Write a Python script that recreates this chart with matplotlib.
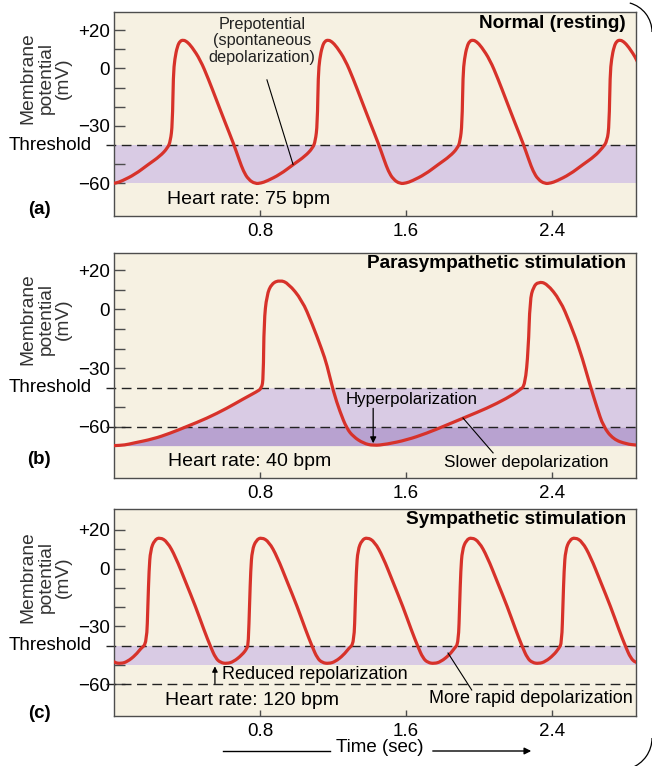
"""Pacemaker potentials under normal, parasympathetic and sympathetic drive."""

import matplotlib
matplotlib.use("Agg")
import matplotlib.pyplot as plt
import numpy as np
from matplotlib.patches import Arc, FancyArrowPatch, PathPatch
from matplotlib.path import Path

plt.rcParams["font.family"] = ["Liberation Sans", "DejaVu Sans"]

RED = "#d7322a"
BEIGE = "#f6f1e2"
PURPLE = "#d9cbe4"
PURPLE_DARK = "#b8a2d0"
FRAME = "#4d4d4d"

W, H = 652, 766
T_MAX = 2.86
THRESHOLD = -40

X_TICKS = [0.8, 1.6, 2.4]
Y_TICKS = [20, 10, 0, -10, -20, -30, -50, -60]
Y_TICK_LABELS = ["+20", "", "0", "", "", "\u221230", "", "\u221260"]

# (a) normal: one beat traced around its peak (s from peak, mV) + peak times
A_SHAPE_T = [-0.071, -0.060, -0.055, -0.047, -0.033, -0.018, 0.0, 0.019, 0.046,
             0.093, 0.137, 0.181, 0.230, 0.274, 0.307, 0.329, 0.356, 0.393,
             0.427, 0.457, 0.530, 0.603, 0.667, 0.709]
A_SHAPE_V = [-38, -29.4, -3.4, 5, 11.5, 14.3, 14.8, 14, 11.3,
             4.4, -5.5, -16.4, -28.5, -39, -48, -53.6, -57.9, -60.2,
             -59.8, -58.8, -55.3, -50.1, -45.8, -41.5]
A_PEAKS = [-0.415, 0.38, 1.174, 1.967, 2.773]
A_BAND = (-60, -40)

# (b) parasympathetic: traced point by point
B_T = [0.0, 0.06, 0.106, 0.215, 0.307, 0.398, 0.508, 0.618, 0.708, 0.782, 0.809,
       0.818, 0.822, 0.837, 0.864, 0.910, 0.955, 1.030, 1.085, 1.140, 1.167,
       1.202, 1.238, 1.275, 1.311, 1.366, 1.421, 1.494, 1.604, 1.713, 1.823,
       1.933, 2.042, 2.152, 2.225, 2.252, 2.270, 2.279, 2.298, 2.325, 2.371,
       2.444, 2.499, 2.553, 2.608, 2.645, 2.681, 2.736, 2.809, 2.860]
B_V = [-69.5, -69.2, -68.2, -66.1, -63.2, -59.8, -55.6, -50.5, -45.7, -42, -40.3,
       -35.2, -6.3, 7.3, 13.2, 14.9, 13.2, 4.7, -7.2, -20.8, -28.4,
       -42, -52.2, -60.7, -64.9, -68.3, -69.5, -68.8, -66.6, -63.2, -59,
       -54.7, -50.5, -45.4, -41.1, -38.6, -20.8, 4.7, 11.5, 14, 13.2,
       4.7, -7.2, -20.8, -38.6, -49.7, -59.8, -66.3, -68.7, -69.2]
B_BAND = (-60, -40)
B_BAND_DARK = (-69.5, -60)
B_FULL_FROM = 0.91  # band is filled everywhere after the first peak

# (c) sympathetic: one beat around its peak + peak times
C_SHAPE_T = [-0.073, -0.066, -0.060, -0.052, -0.030, 0.0, 0.040, 0.085, 0.140,
             0.195, 0.241, 0.277, 0.305, 0.332, 0.367, 0.403, 0.449, 0.477]
C_SHAPE_V = [-38.9, -18.1, -0.8, 9.6, 14.8, 16.2, 13.9, 6.1, -6.9,
             -19.8, -31.9, -40.6, -46.6, -48.9, -49.4, -48.4, -44.9, -41.5]
C_PEAKS = [-0.33, 0.252, 0.809, 1.388, 1.960, 2.526]
C_BAND = (-50, -40)


def beats(shape_t, shape_v, peaks):
    t = np.concatenate([p + np.asarray(shape_t) for p in peaks])
    v = np.concatenate([np.asarray(shape_v, float) for _ in peaks])
    return t, v


def smooth_trace(ax, t, v, **kw):
    """Draw the traced points as a chain of quadratic Beziers (rounded corners)."""
    pts = np.column_stack([t, v])
    mids = (pts[1:] + pts[:-1]) / 2
    verts = [pts[0], mids[0]]
    codes = [Path.MOVETO, Path.LINETO]
    for i in range(1, len(pts) - 1):
        verts += [pts[i], mids[i]]
        codes += [Path.CURVE3, Path.CURVE3]
    verts.append(pts[-1])
    codes.append(Path.LINETO)
    ax.add_patch(PathPatch(Path(verts, codes), fill=False, capstyle="round",
                           joinstyle="round", **kw))


def fig_rect(left, top, right, bottom):
    return [left / W, 1 - bottom / H, (right - left) / W, (bottom - top) / H]


def style_axes(ax, ylim, title, letter, letter_y, label_y, dashed):
    ax.set_facecolor(BEIGE)
    ax.set_xlim(0, T_MAX)
    ax.set_ylim(*ylim)
    ax.set_xticks(X_TICKS)
    ax.set_xticklabels([f"{x:.1f}" for x in X_TICKS])
    ax.set_yticks(Y_TICKS)
    ax.set_yticklabels(Y_TICK_LABELS)
    ax.tick_params(axis="y", direction="in", length=8, width=1, color=FRAME,
                   labelsize=13.5, pad=3)
    ax.tick_params(axis="x", direction="in", length=4, width=1, color=FRAME,
                   labelsize=13.5, pad=5)
    for sp in ax.spines.values():
        sp.set_color(FRAME)
        sp.set_linewidth(1.0)
    for y in dashed:
        ax.plot([-0.045, T_MAX], [y, y], color="#222222", lw=1.0,
                dashes=(7, 4), clip_on=False, zorder=2)
    ax.annotate("Threshold", xy=(0, THRESHOLD), xycoords=("axes fraction", "data"),
                xytext=(-22, 0), textcoords="offset pixels", ha="right",
                va="center", fontsize=13.5, annotation_clip=False)
    ax.annotate(title, xy=(1, 1), xycoords="axes fraction", xytext=(-10, -11),
                textcoords="offset pixels", ha="right", va="center",
                fontsize=13.7, fontweight="bold")
    fig.text(39 / W, 1 - letter_y / H, letter, ha="center", va="center",
             fontsize=13.5, fontweight="bold")
    fig.text(46 / W, 1 - label_y / H, "Membrane\npotential\n(mV)", rotation=90,
             ha="center", va="center", multialignment="center",
             fontsize=13.8, linespacing=1.05, color="#333333")


fig = plt.figure(figsize=(W / 100, H / 100), dpi=100)
fig.patch.set_facecolor("white")
trace_kw = dict(edgecolor=RED, lw=2.3, zorder=3)

# ---- (a) normal ----
ax_a = fig.add_axes(fig_rect(114, 12, 636, 216))
style_axes(ax_a, (-77, 29.4), "Normal (resting)", "(a)", 210, 78, [THRESHOLD])
ax_a.axhspan(*A_BAND, color=PURPLE, lw=0, zorder=1)
t_a, v_a = beats(A_SHAPE_T, A_SHAPE_V, A_PEAKS)
smooth_trace(ax_a, t_a, v_a, **trace_kw)
ax_a.text(0.81, 14.3, "Prepotential\n(spontaneous\ndepolarization)", ha="center",
          va="center", fontsize=11.7, linespacing=1.12, color="#222222")
ax_a.plot([0.838, 0.981], [-6, -50.1], color="black", lw=0.8, zorder=4)
ax_a.text(0.29, -68.3, "Heart rate: 75 bpm", ha="left", va="center", fontsize=14)

# ---- (b) parasympathetic ----
ax_b = fig.add_axes(fig_rect(114, 253, 636, 478))
style_axes(ax_b, (-86, 28.7), "Parasympathetic stimulation", "(b)", 460, 319,
           [THRESHOLD, -60])
t_b = np.asarray(B_T)
v_b = np.asarray(B_V, float)
after = t_b >= B_FULL_FROM
ax_b.fill_between(t_b, B_BAND[0],
                  np.where(after, B_BAND[1], np.clip(v_b, B_BAND[0], B_BAND[1])),
                  color=PURPLE, lw=0, zorder=1)
ax_b.fill_between(t_b, B_BAND_DARK[0],
                  np.where(after, B_BAND_DARK[1],
                           np.clip(v_b, B_BAND_DARK[0], B_BAND_DARK[1])),
                  color=PURPLE_DARK, lw=0, zorder=1)
smooth_trace(ax_b, t_b, v_b, **trace_kw)
ax_b.text(1.633, -46.2, "Hyperpolarization", ha="center", va="center",
          fontsize=12.2, zorder=4)
ax_b.annotate("", xy=(1.42, -68.3), xytext=(1.42, -50.5),
              arrowprops=dict(arrowstyle="-|>", lw=0.9, color="black",
                              mutation_scale=9, shrinkA=0, shrinkB=0), zorder=4)
ax_b.plot([1.912, 2.077], [-55.4, -73.2], color="black", lw=0.8, zorder=4)
ax_b.text(0.297, -77.8, "Heart rate: 40 bpm", ha="left", va="center", fontsize=14)
ax_b.text(2.707, -78.3, "Slower depolarization", ha="right", va="center",
          fontsize=12.3)

# ---- (c) sympathetic ----
ax_c = fig.add_axes(fig_rect(114, 509, 636, 716))
style_axes(ax_c, (-76.6, 30.9), "Sympathetic stimulation", "(c)", 713, 577,
           [THRESHOLD, -60])
ax_c.axhspan(*C_BAND, color=PURPLE, lw=0, zorder=1)
t_c, v_c = beats(C_SHAPE_T, C_SHAPE_V, C_PEAKS)
smooth_trace(ax_c, t_c, v_c, **trace_kw)
ax_c.annotate("", xy=(0.553, -50.8), xytext=(0.553, -59.8),
              arrowprops=dict(arrowstyle="-|>", lw=0.9, color="black",
                              mutation_scale=8, shrinkA=0, shrinkB=0), zorder=4)
ax_c.text(0.592, -54.8, "Reduced repolarization", ha="left", va="center",
          fontsize=13, zorder=4)
ax_c.plot([1.83, 1.96], [-43.9, -63.1], color="black", lw=0.8, zorder=4)
ax_c.text(0.28, -68.3, "Heart rate: 120 bpm", ha="left", va="center", fontsize=14)
ax_c.text(2.84, -67.3, "More rapid depolarization", ha="right", va="center",
          fontsize=13)

# time axis caption with arrow
fig.text(380 / W, 1 - 748 / H, "Time (sec)", ha="center", va="center",
         fontsize=13.5)
fig.add_artist(plt.Line2D([223 / W, 330 / W], [1 - 751 / H, 1 - 751 / H],
                          color="black", lw=1.0))
fig.add_artist(FancyArrowPatch(
    (430 / W, 1 - 751 / H), (534 / W, 1 - 751 / H), transform=fig.transFigure,
    arrowstyle="-|>", mutation_scale=10, lw=1.0, color="black"))

# page-corner decoration
fig.add_artist(Arc((622 / 100, (H - 32) / 100), 0.60, 0.60, theta1=0, theta2=75,
                   transform=fig.dpi_scale_trans, color="black", lw=0.9))
fig.add_artist(Arc((620 / 100, (H - 738) / 100), 0.64, 0.64, theta1=-70, theta2=0,
                   transform=fig.dpi_scale_trans, color="black", lw=0.9))

fig.savefig("out.png", dpi=100, facecolor="white")
